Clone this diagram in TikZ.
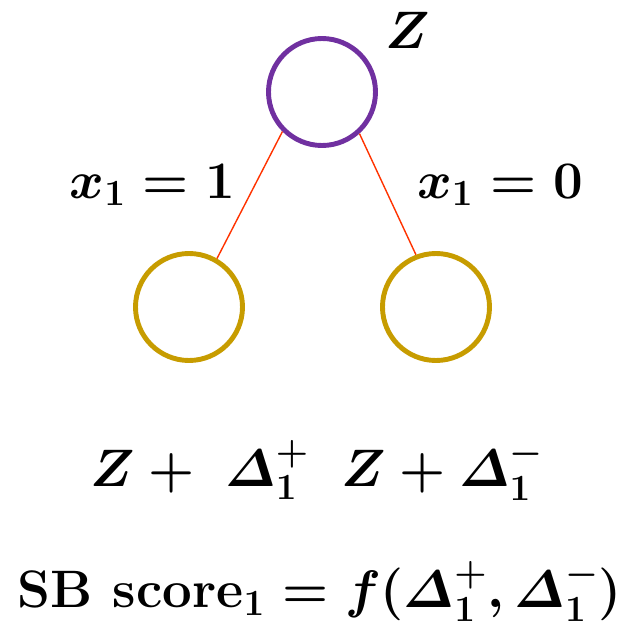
\RequirePackage{fix-cm}
\documentclass[tikz,border=0pt]{standalone}
\usepackage{amsmath,amssymb}
\usepackage{xcolor}
\usepackage{tikz}
\usetikzlibrary{calc}

\definecolor{rootpurple}{RGB}{112,48,160}
\definecolor{leafgold}{RGB}{199,156,0}
\definecolor{edgered}{RGB}{255,51,0}

\begin{document}
\begin{tikzpicture}[font=\fontsize{30}{36}\selectfont\boldmath,
  root/.style={circle,draw=rootpurple,line width=2.8pt,minimum size=2.14cm,inner sep=0pt},
  leaf/.style={circle,draw=leafgold,line width=2.8pt,minimum size=2.14cm,inner sep=0pt},
  branch/.style={draw=edgered,line width=0.8pt}]
  \useasboundingbox (0,0) rectangle (12.66,12.6);
  % tree
  \node[root] (top) at (6.44,10.76) {};
  \node[leaf] (left) at (3.78,6.46) {};
  \node[leaf] (right) at (8.72,6.46) {};
  \draw[branch] (top.225) -- (left.60);
  \draw[branch] (top.-48) -- (right.111);
  % labels
  \node (zlab) at (8.16,12.0) {$Z$};
  \node (onelab) at (3.05,8.9) {$x_{1} = 1$};
  \node (zerolab) at (10.0,8.9) {$x_{1} = 0$};
  \node (pluslab) at (4.0,3.2) {$Z + \;\varDelta_{1}^{+}$};
  \node (minuslab) at (8.85,3.2) {$Z + \varDelta_{1}^{-}$};
  \node (sblab) at (6.4,0.78) {\textbf{SB score}$_{1} = f(\varDelta_{1}^{+},\varDelta_{1}^{-})$};
\end{tikzpicture}
\end{document}
